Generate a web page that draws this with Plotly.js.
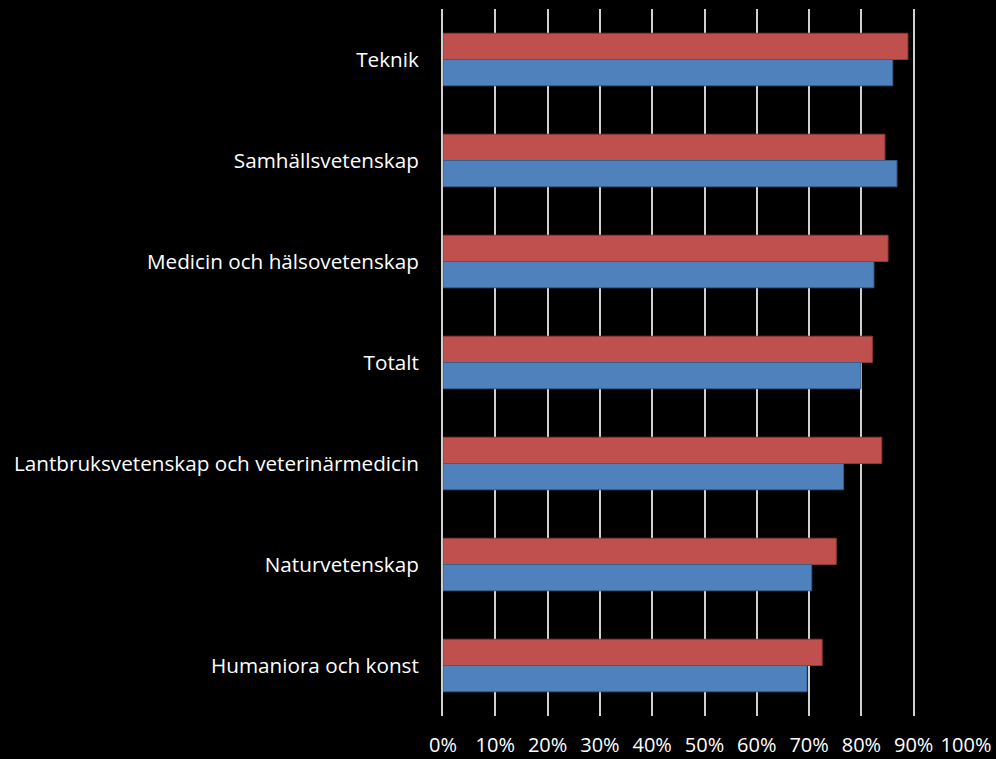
<!DOCTYPE html>
<html>
<head>
<meta charset="utf-8">
<script src="https://cdn.plot.ly/plotly-3.0.1.min.js"></script>
<style>
  html, body { margin: 0; padding: 0; background: #000; }
  #chart { width: 996px; height: 759px; }
</style>
</head>
<body>
<div id="chart"></div>
<script>
const categories = [
  "Teknik",
  "Samhällsvetenskap",
  "Medicin och hälsovetenskap",
  "Totalt",
  "Lantbruksvetenskap och veterinärmedicin",
  "Naturvetenskap",
  "Humaniora och konst"
];
const redValues  = [0.889, 0.845, 0.851, 0.821, 0.839, 0.752, 0.725];
const blueValues = [0.860, 0.868, 0.824, 0.799, 0.766, 0.705, 0.696];
const tickVals   = [0, 0.1, 0.2, 0.3, 0.4, 0.5, 0.6, 0.7, 0.8, 0.9, 1.0];
const tickText   = ["0%", "10%", "20%", "30%", "40%", "50%", "60%", "70%", "80%", "90%", "100%"];

const fontFamily = "Open Sans, Noto Sans, sans-serif";

const traces = [
  {
    type: "bar", orientation: "h", name: "Serie 1",
    y: categories, x: redValues,
    marker: { color: "#c0504d", line: { color: "#8c3836", width: 1 } },
    hoverinfo: "skip"
  },
  {
    type: "bar", orientation: "h", name: "Serie 2",
    y: categories, x: blueValues,
    marker: { color: "#4f81bd", line: { color: "#385d8a", width: 1 } },
    hoverinfo: "skip"
  }
];

const layout = {
  width: 996, height: 759,
  paper_bgcolor: "#000000", plot_bgcolor: "#000000",
  margin: { l: 443, r: 30, t: 9, b: 43, pad: 0 },
  showlegend: false,
  barmode: "group", bargap: 0.48, bargroupgap: 0,
  font: { family: fontFamily, color: "#ffffff", size: 20 },
  xaxis: {
    range: [0, 1], tickvals: tickVals, ticktext: tickText,
    showgrid: true, gridcolor: "#d0d0d0", gridwidth: 2,
    zeroline: false, showline: false, ticks: "",
    ticklabelstandoff: 15,
    tickfont: { family: fontFamily, size: 20, color: "#ffffff" },
    fixedrange: true
  },
  yaxis: {
    type: "category", autorange: "reversed",
    showgrid: false, zeroline: false,
    showline: true, linecolor: "#d0d0d0", linewidth: 2,
    ticks: "", ticklabelstandoff: 18,
    tickfont: { family: fontFamily, size: 20.7, color: "#ffffff" },
    fixedrange: true
  }
};

Plotly.newPlot("chart", traces, layout, { displayModeBar: false, staticPlot: true });
</script>
</body>
</html>
